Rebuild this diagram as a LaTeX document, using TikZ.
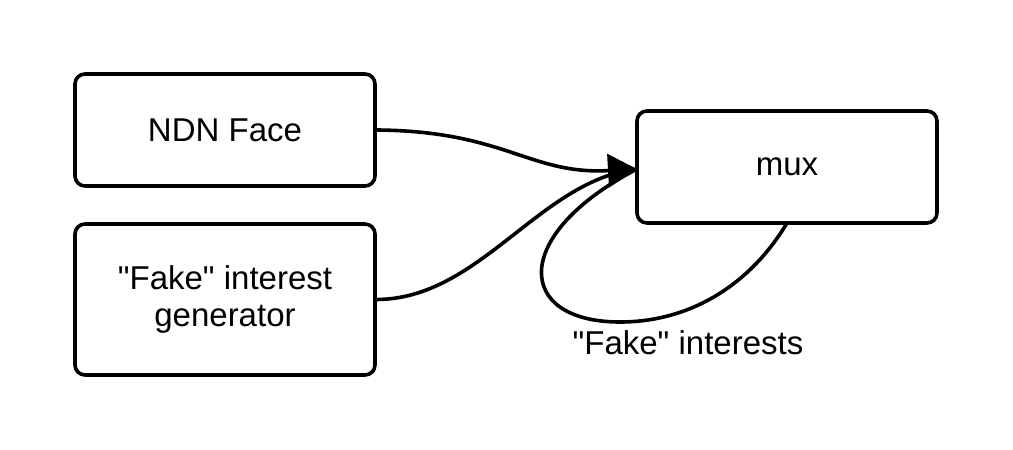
\documentclass[tikz,border=0pt]{standalone}
\usepackage{fontspec}
\setmainfont{Liberation Sans}
\usetikzlibrary{arrows.meta}
\begin{document}
\begin{tikzpicture}[x=1pt,y=-1pt,
  blockbox/.style={draw=black,line width=3.6pt,rounded corners=10pt,minimum width=300pt,minimum height=112pt,inner sep=0pt,align=center,font=\fontsize{33}{36.5}\selectfont},
  wire/.style={line width=3.6pt,draw=black},
  lbl/.style={font=\fontsize{33}{36.5}\selectfont,inner sep=0pt}]
\useasboundingbox (0,0) rectangle (1013,450);
\node[blockbox] (ndn) at (225,130) {NDN Face};
\node[blockbox,minimum height=151pt] (gen) at (225,299.5) {\textquotedbl Fake\textquotedbl{} interest\\generator};
\node[blockbox] (mux) at (787,167) {mux};
\coordinate (tip) at (637,169);
\coordinate (loopstart) at (787,223);
\draw[wire] (gen.east) .. controls (480,299) and (540,180) .. (tip);
\draw[wire] (loopstart) .. controls (750,285) and (690,322) .. (620,322)
  .. controls (515,322) and (510,235) .. (tip);
\draw[wire,-{Triangle[length=29pt,width=33pt]}] (ndn.east) .. controls (505,131) and (530,175) .. (tip);
\node[lbl] (fi) at (688,343) {\textquotedbl Fake\textquotedbl{} interests};
\end{tikzpicture}
\end{document}
